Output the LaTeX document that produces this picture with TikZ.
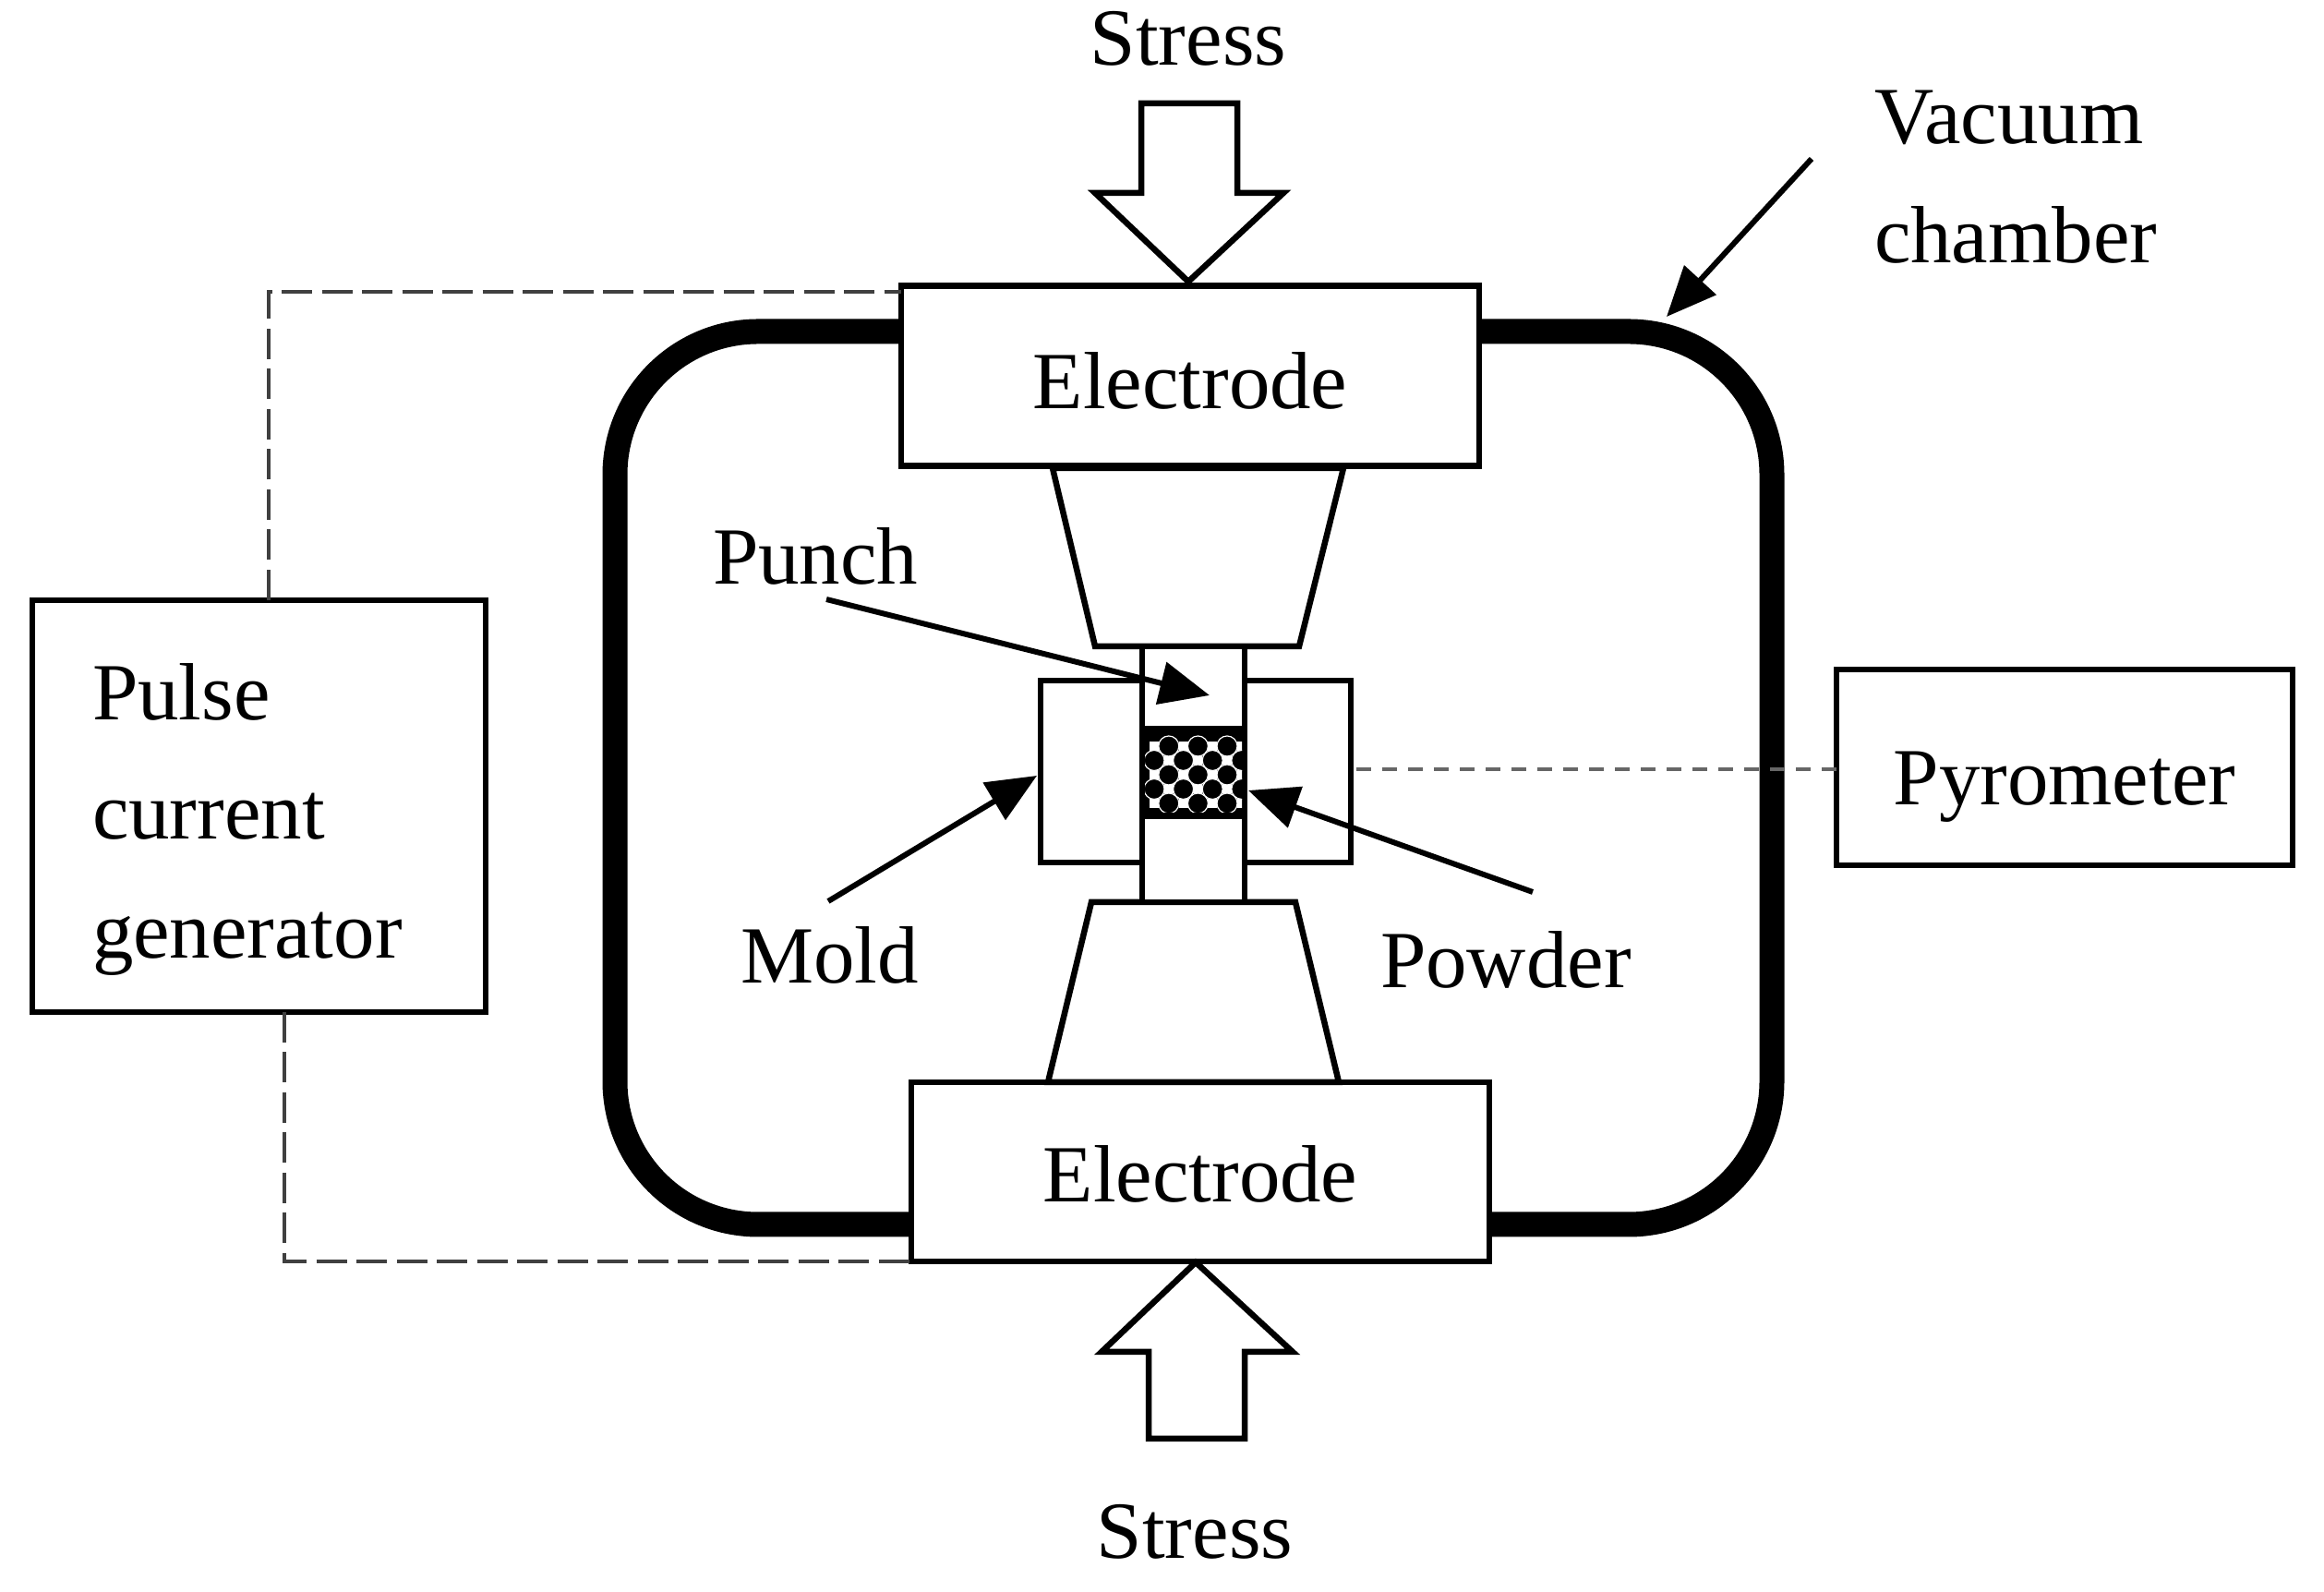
\documentclass[tikz,border=0pt]{standalone}
\usepackage{fontspec}
\setmainfont[FakeStretch=1.012]{Liberation Serif}
\usetikzlibrary{arrows.meta}
\tikzset{
	box/.style={draw=black, line width=0.065cm, fill=white, inner sep=0pt, outer sep=0pt},
	part/.style={draw=black, line width=0.065cm, fill=white},
	tag/.style={inner sep=0pt, outer sep=0pt, font=\fontsize{25}{36.6}\selectfont},
	pointer/.style={black, line width=0.06cm, -{Stealth[length=0.54cm,width=0.46cm,inset=0pt]}},
	lead/.style={draw=black!75, line width=0.045cm, dash pattern=on 0.33cm off 0.105cm},
	sightline/.style={draw=black!60, line width=0.04cm, dash pattern=on 0.16cm off 0.12cm},
}
\begin{document}
\begin{tikzpicture}
		\useasboundingbox (0,0) rectangle (25.17,17.24);
		% chamber wall
		\draw[black, line width=0.27cm, rounded corners=1.55cm] (6.66,3.98) rectangle (19.19,13.65);
		%
		% stack
		\node[box, tag, minimum width=6.26cm, minimum height=1.95cm, text height=0.72cm] (eltop) at (12.89,13.17) {Electrode};
		\node[box, tag, minimum width=6.26cm, minimum height=1.94cm, text height=0.66cm] (elbot) at (13.00,4.55) {Electrode};
		\draw[part] (11.40,12.17) -- (14.55,12.17) -- (14.07,10.24) -- (11.86,10.24) -- cycle;
		\draw[part] (11.82,7.47) -- (14.03,7.47) -- (14.50,5.52) -- (11.35,5.52) -- cycle;
		\node[box, minimum width=3.36cm, minimum height=1.97cm] (mold) at (12.95,8.885) {};
		\node[box, minimum width=1.11cm, minimum height=2.77cm] (punch) at (12.925,8.855) {};
		\node[box, fill=black, minimum width=1.11cm, minimum height=0.94cm] (powder) at (12.925,8.875) {};
		%
		% grains
		\begin{scope}
			\clip (12.40,8.44) rectangle (13.45,9.27);
			\foreach \i in {0,2,4,6} \foreach \j in {0,2,4}
				\fill[white] (12.50+0.158*\i-0.05,9.16-0.155*\j-0.05) rectangle ++(0.10,0.10);
			\foreach \i in {1,3,5} \foreach \j in {1,3}
				\fill[white] (12.50+0.158*\i-0.05,9.16-0.155*\j-0.05) rectangle ++(0.10,0.10);
			\foreach \i in {1,3,5} \foreach \j in {0,2,4}
				\draw[white, fill=black, line width=0.012cm] (12.50+0.158*\i,9.16-0.155*\j) circle (0.11);
			\foreach \i in {0,2,4,6} \foreach \j in {1,3}
				\draw[white, fill=black, line width=0.012cm] (12.50+0.158*\i,9.16-0.155*\j) circle (0.11);
		\end{scope}
		%
		% stress arrows
		\draw[part] (12.36,16.12) -- (13.40,16.12) -- (13.40,15.15) -- (13.90,15.15) -- (12.87,14.19) -- (11.86,15.15) -- (12.36,15.15) -- cycle;
		\draw[part] (12.44,1.66) -- (13.48,1.66) -- (13.48,2.60) -- (14.00,2.60) -- (12.95,3.57) -- (11.93,2.60) -- (12.44,2.60) -- cycle;
		\node[tag, anchor=base] (stresstop) at (12.87,16.53) {Stress};
		\node[tag, anchor=base] (stressbot) at (12.94,0.36) {Stress};
		%
		% outside boxes
		\node[box, minimum width=4.91cm, minimum height=4.46cm] (pulse) at (2.805,8.51) {};
		\node[tag, anchor=north west, align=left] (pulsetext) at (1.00,10.05) {Pulse\\current\\generator};
		\node[box, tag, minimum width=4.94cm, minimum height=2.12cm, text height=1.01cm, text depth=0.19cm] (pyro) at (22.36,8.93) {Pyrometer};
		%
		% dashed leads
		\coordinate (toplead) at (2.91,14.08);
		\coordinate (botlead) at (3.08,3.58);
		\coordinate (moldlead) at (14.69,8.91);
		\draw[lead] (toplead |- pulse.north) -- (toplead) -- (eltop.west |- toplead);
		\draw[lead] (botlead |- pulse.south) -- (botlead) -- (elbot.south west);
		\draw[sightline] (moldlead) -- (pyro.west |- moldlead);
		%
		% labels and pointers
		\node[tag, anchor=north west, align=left] (vacuum) at (20.30,16.26) {Vacuum\\chamber};
		\node[tag, anchor=base west] (punchlabel) at (7.72,10.91) {Punch};
		\node[tag, anchor=base west] (moldlabel) at (8.02,6.59) {Mold};
		\node[tag, anchor=base west] (powderlabel) at (14.95,6.54) {Powder};
		\coordinate (vacuumtail) at (19.62,15.52);
		\coordinate (vacuumtip) at (18.05,13.81);
		\coordinate (punchtail) at (8.95,10.75);
		\coordinate (punchtip) at (13.10,9.71);
		\coordinate (moldtail) at (8.97,7.48);
		\coordinate (moldtip) at (11.23,8.84);
		\coordinate (powdertail) at (16.60,7.58);
		\coordinate (powdertip) at (13.52,8.68);
		\draw[pointer] (vacuumtail) -- (vacuumtip);
		\draw[pointer] (punchtail) -- (punchtip);
		\draw[pointer] (moldtail) -- (moldtip);
		\draw[pointer] (powdertail) -- (powdertip);
	\end{tikzpicture}
\end{document}
